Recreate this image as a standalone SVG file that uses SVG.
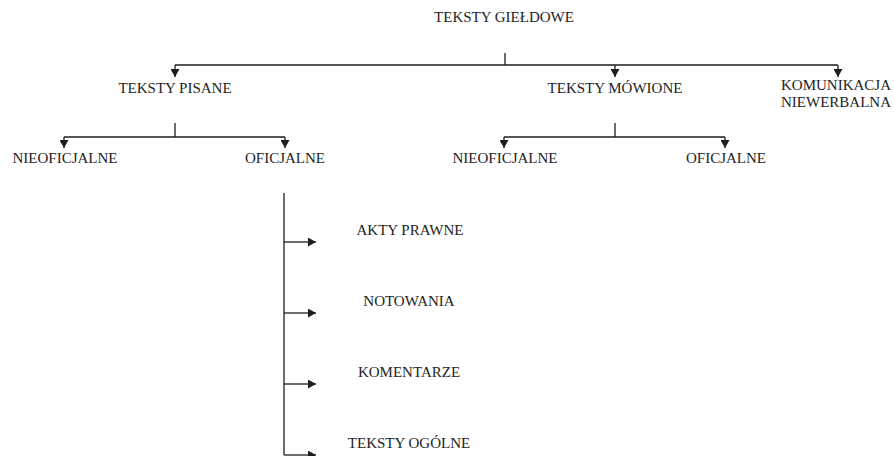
<svg xmlns="http://www.w3.org/2000/svg" width="894" height="456" viewBox="0 0 894 456">
<style>
text{font-family:"Liberation Serif","Times New Roman",serif;font-size:15px;fill:#1e1e1e}
.c{text-anchor:middle}
.ln{stroke:#1e1e1e;stroke-width:1.3;fill:none}
</style>
<defs>
<marker id="ah" markerWidth="8" markerHeight="9" viewBox="0 0 8 9" refX="8" refY="4.5" orient="auto" markerUnits="userSpaceOnUse">
<path d="M0,0 L8,4.5 L0,9 Z" fill="#1e1e1e"/>
</marker>
</defs>
<rect width="894" height="456" fill="#fff"/>
<g id="connectors">
<path class="ln" d="M505,53 V65"/>
<path class="ln" d="M175,65 H838"/>
<path class="ln" d="M175,65 V77" marker-end="url(#ah)"/>
<path class="ln" d="M615,65 V77" marker-end="url(#ah)"/>
<path class="ln" d="M838,65 V77" marker-end="url(#ah)"/>
<path class="ln" d="M175,123 V137"/>
<path class="ln" d="M64,137 H285"/>
<path class="ln" d="M64,137 V148" marker-end="url(#ah)"/>
<path class="ln" d="M285,137 V148" marker-end="url(#ah)"/>
<path class="ln" d="M615,123 V137"/>
<path class="ln" d="M504,137 H725"/>
<path class="ln" d="M504,137 V148" marker-end="url(#ah)"/>
<path class="ln" d="M725,137 V148" marker-end="url(#ah)"/>
<path class="ln" d="M284,193 V455"/>
<path class="ln" d="M284,242 H316" marker-end="url(#ah)"/>
<path class="ln" d="M284,313 H316" marker-end="url(#ah)"/>
<path class="ln" d="M284,384 H316" marker-end="url(#ah)"/>
<path class="ln" d="M284,455 H316" marker-end="url(#ah)"/>
</g>
<g id="n-gieldowe"><text class="c" x="504" y="22">TEKSTY GIEŁDOWE</text></g>
<g id="n-pisane"><text class="c" x="175" y="93">TEKSTY PISANE</text></g>
<g id="n-mowione"><text class="c" x="615" y="93">TEKSTY MÓWIONE</text></g>
<g id="n-niewerbalna"><text x="781" y="90">KOMUNIKACJA</text><text x="781" y="107">NIEWERBALNA</text></g>
<g id="n-p-nieoficjalne"><text class="c" x="65" y="163">NIEOFICJALNE</text></g>
<g id="n-p-oficjalne"><text class="c" x="285" y="163">OFICJALNE</text></g>
<g id="n-m-nieoficjalne"><text class="c" x="505" y="163">NIEOFICJALNE</text></g>
<g id="n-m-oficjalne"><text class="c" x="726" y="163">OFICJALNE</text></g>
<g id="n-akty"><text class="c" x="410" y="235">AKTY PRAWNE</text></g>
<g id="n-notowania"><text class="c" x="409" y="306">NOTOWANIA</text></g>
<g id="n-komentarze"><text class="c" x="409" y="377">KOMENTARZE</text></g>
<g id="n-ogolne"><text class="c" x="409" y="448">TEKSTY OGÓLNE</text></g>
</svg>
